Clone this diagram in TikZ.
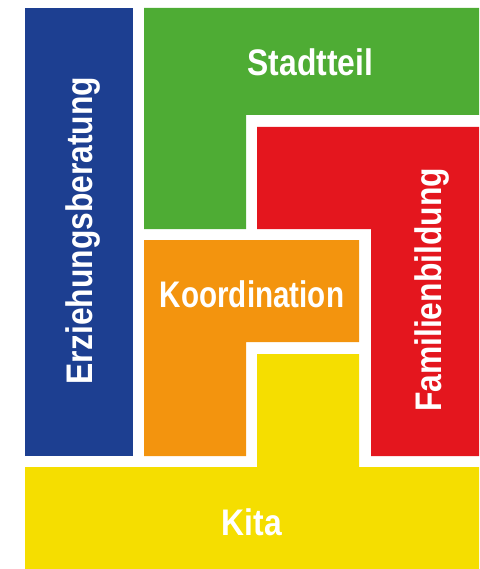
\documentclass[tikz,border=0pt]{standalone}
\usepackage{fontspec}
\setmainfont{Liberation Sans}
\definecolor{ebblue}{RGB}{29,63,145}
\definecolor{stgreen}{RGB}{78,172,52}
\definecolor{fbred}{RGB}{228,22,30}
\definecolor{koorange}{RGB}{243,148,14}
\definecolor{kiyellow}{RGB}{245,222,0}
\newcommand{\narrowtxt}[2][0.86]{\scalebox{#1}[1]{#2}}
\tikzset{
  lbl/.style={text=white, inner sep=0pt, anchor=base, font=\bfseries\fontsize{37}{37}\selectfont},
}
\begin{document}
\begin{tikzpicture}[x=1pt,y=-1pt]
\useasboundingbox (0,0) rectangle (479,569);
%blocks
 \fill[ebblue] (25,8) rectangle (133,456); %Erziehungsberatung
 \fill[stgreen] (144,8) -- (479,8) -- (479,115) -- (246,115) -- (246,229) -- (144,229) -- cycle; %Stadtteil
 \fill[fbred] (257,127) -- (479,127) -- (479,456) -- (371,456) -- (371,229) -- (257,229) -- cycle; %Familienbildung
 \fill[koorange] (144,240) -- (359,240) -- (359,342) -- (246,342) -- (246,456) -- (144,456) -- cycle; %Koordination
 \fill[kiyellow] (25,467) -- (257,467) -- (257,354) -- (359,354) -- (359,467) -- (479,467) -- (479,569) -- (25,569) -- cycle; %Kita
%labels
 \node[lbl] (stadtteil) at (310.5,75.3) {\narrowtxt{Stadtteil}};
 \node[lbl] (koord) at (252,307.3) {\narrowtxt[0.8]{Koordination}};
 \node[lbl] (kita) at (252,535.7) {\narrowtxt{Kita}};
 \node[lbl,rotate=90] (erzb) at (92.7,230.5) {\narrowtxt{Erziehungsberatung}};
 \node[lbl,rotate=90] (famb) at (441.7,290) {\narrowtxt{Familienbildung}};
\end{tikzpicture}
\end{document}
